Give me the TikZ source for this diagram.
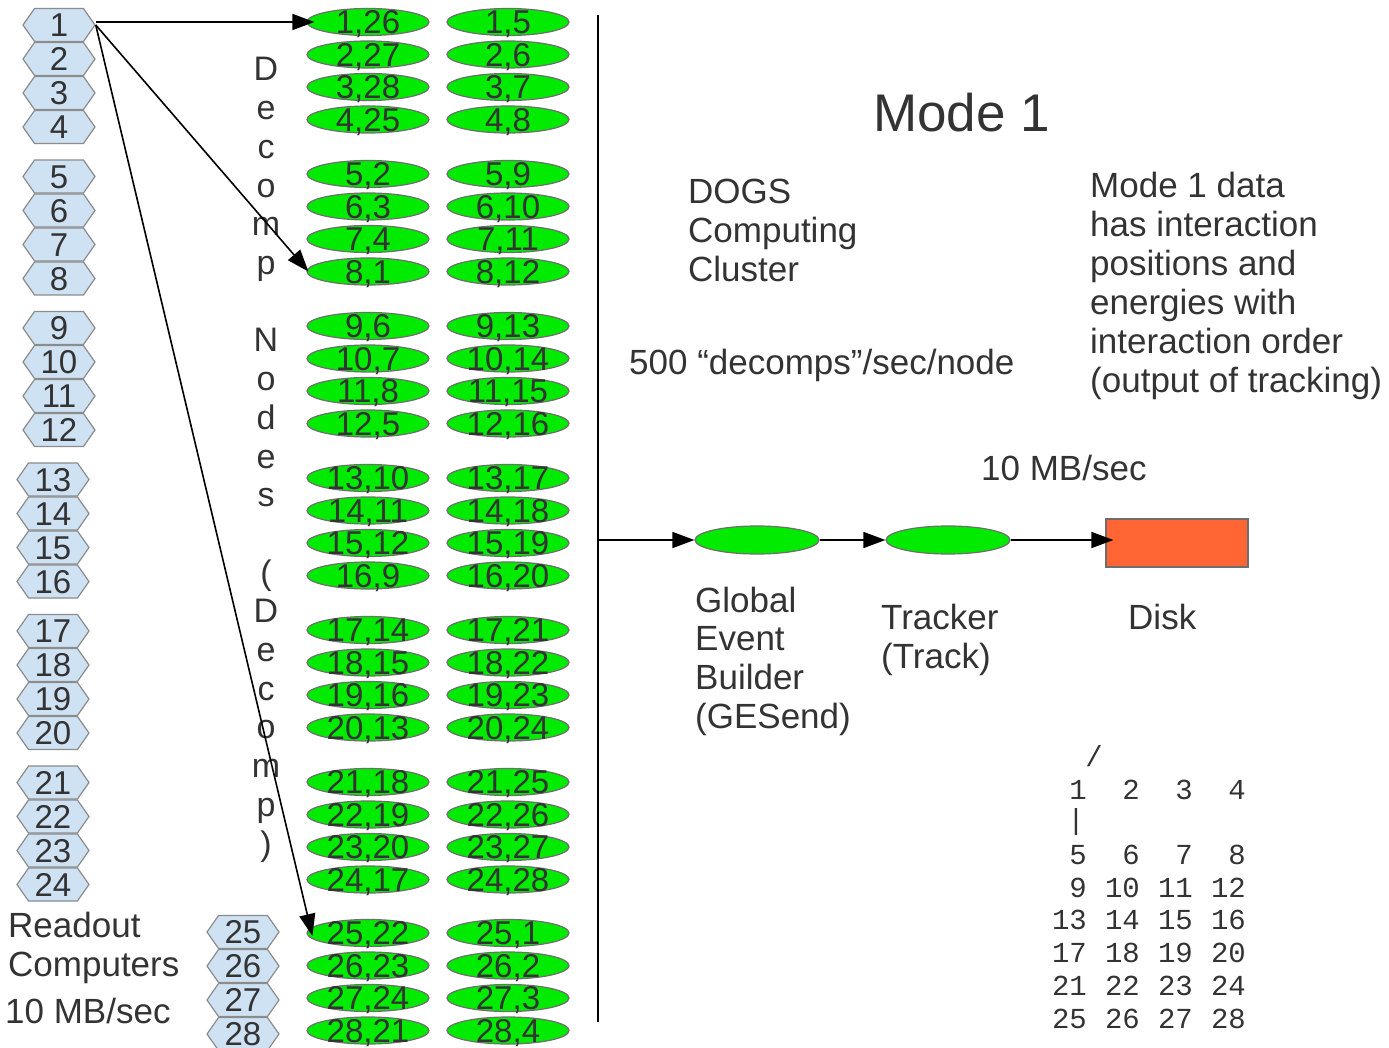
\documentclass[tikz,border=0pt]{standalone}
\usepackage{fontspec}
\setmainfont{Liberation Sans}
\newfontfamily\gridfont{Liberation Mono}
\usetikzlibrary{shapes.geometric,shapes.symbols,arrows.meta}
\definecolor{ink}{HTML}{333333}
\definecolor{hexfill}{HTML}{CFE2F3}
\definecolor{hexline}{HTML}{8C8C8C}
\definecolor{nodegreen}{HTML}{00EB00}
\definecolor{nodeline}{HTML}{6E6E6E}
\definecolor{diskfill}{HTML}{FF6633}
\tikzset{
  hexa/.style={shape=signal, signal to=east and west, signal pointer angle=110,
    draw=hexline, fill=hexfill, line width=1.2pt,
    minimum width=72pt, minimum height=33pt, inner sep=0pt},
  hexlabel/.style={font=\fontsize{33}{33}\selectfont, text=ink,
    text height=23.6pt, text depth=0pt, inner sep=0pt},
  ell/.style={ellipse, draw=nodeline, fill=nodegreen, line width=1.2pt,
    minimum width=122pt, minimum height=27pt, inner sep=0pt},
  elllabel/.style={font=\fontsize{33}{33}\selectfont, text=ink,
    text height=23.6pt, text depth=0pt, inner sep=0pt},
  txt/.style={font=\fontsize{35}{39}\selectfont, text=ink, inner sep=0pt, anchor=base west},
  letter/.style={font=\fontsize{34}{34}\selectfont, text=ink, inner sep=0pt, anchor=base},
  grid/.style={font=\gridfont\fontsize{29}{29}\selectfont, text=ink, inner sep=0pt, anchor=base east},
  arr/.style={-{Triangle[length=22pt,width=16pt]}, line width=1.6pt, draw=black},
}
\begin{document}
\begin{tikzpicture}[x=1pt,y=-1pt]
\useasboundingbox (0,0) rectangle (1389,1048);
\fill[white] (0,0) rectangle (1389,1048);

% readout computers (hexagons)
\foreach \i in {1,...,28}{
  \pgfmathtruncatemacro\g{div(\i-1,4)}
  \pgfmathtruncatemacro\k{mod(\i-1,4)}
  \pgfmathsetmacro\hy{25+151.5*\g+34*\k-(\g==6)*2}
  \ifnum\i<13 \def\hx{59}\else\ifnum\i<25 \def\hx{53}\else\def\hx{243}\fi\fi
  \node[hexa, label={[hexlabel]center:\i}] (h\i) at (\hx,\hy) {};
}

% decomp nodes (two columns of ellipses)
\foreach \i in {1,...,28}{
  \pgfmathtruncatemacro\g{div(\i-1,4)}
  \pgfmathtruncatemacro\k{mod(\i-1,4)}
  \pgfmathsetmacro\ey{22+152*\g+32.5*\k-(\g==6)*1}
  \pgfmathtruncatemacro\p{mod(\g+6,7)*4+mod(\k+1,4)+1}
  \pgfmathtruncatemacro\q{mod(\i+3,28)+1}
  \node[ell, label={[elllabel]center:\i,\p}] (a\i) at (368,\ey) {};
  \node[ell, label={[elllabel]center:\i,\q}] (b\i) at (508,\ey) {};
}

% vertical caption between the columns
\foreach \c [count=\n] in {D,e,c,o,m,p,{},N,o,d,e,s,{},{(},D,e,c,o,m,p,{)}}{
  \node[letter] (v\n) at (266,{69+12+38.7*(\n-1)}) {\c};
}

% fan-out from readout computer 1
\draw[arr] (h1.east |- a1.west) -- ([xshift=8pt]a1.west);
\draw[arr] (h1.east) -- ([xshift=2pt]a8.west);
\draw[arr] (h1.east) -- ([xshift=6pt,yshift=-3pt]a25.west);

% collection bus and pipeline
\coordinate (bustop) at (598,15);
\coordinate (busbot) at (598,1022);
\coordinate (busout) at (598,540);
\draw[line width=1.6pt] (bustop) -- (busbot);

\node[ell, minimum width=124pt, minimum height=28pt] (geb) at (757,540) {};
\node[ell, minimum width=124pt, minimum height=28pt] (trk) at (948,540) {};
\node[draw=nodeline, fill=diskfill, line width=1.2pt, minimum width=142pt,
      minimum height=48pt, inner sep=0pt] (disk) at (1177,543) {};
\draw[arr] (busout) -- (geb.west);
\draw[arr] (geb.east) -- (trk.west);
\draw[arr] (trk.east) -- ([xshift=8pt]disk.west |- trk.east);

% titles and captions
\node[txt, font=\fontsize{53}{53}\selectfont] (title) at (873,132) {Mode 1};
\foreach \t [count=\n] in {DOGS,Computing,Cluster}
  \node[txt] (dogs\n) at (688,{204+39*(\n-1)}) {\t};
\foreach \t [count=\n] in {Mode 1 data,has interaction,positions and,energies with,interaction order,{(output of tracking)}}
  \node[txt] (note\n) at (1090,{198+38.8*(\n-1)}) {\t};
\node[txt] (rate) at (629,374) {500 “decomps”/sec/node};
\node[txt] (diskrate) at (981,480) {10 MB/sec};
\foreach \t [count=\n] in {Global,Event,Builder,{(GESend)}}
  \node[txt] (gebtxt\n) at (695,{612+38.7*(\n-1)}) {\t};
\foreach \t [count=\n] in {Tracker,{(Track)}}
  \node[txt] (trktxt\n) at (881,{629+39*(\n-1)}) {\t};
\node[txt] (disktxt) at (1128,629) {Disk};
\node[txt] (ro1) at (8,937) {Readout};
\node[txt] (ro2) at (8,976) {Computers};
\node[txt] (rorate) at (5,1023) {10 MB/sec};

% detector numbering grid
\node[font=\gridfont\fontsize{29}{29}\selectfont, text=ink, inner sep=0pt] (slash) at (1094,756) {/};
\node[font=\gridfont\fontsize{29}{29}\selectfont, text=ink, inner sep=0pt] (bar) at (1076,822) {|};
\foreach \c in {1,...,4}
  \node[grid] (g\c) at ({1034+53*\c},799.5) {\c};
\foreach \r in {1,...,6}{
  \foreach \c in {1,...,4}{
    \pgfmathtruncatemacro\v{4*\r+\c}
    \node[grid] (g\v) at ({1034+53*\c},{864.5+32.7*(\r-1)}) {\v};
  }
}
\end{tikzpicture}
\end{document}
